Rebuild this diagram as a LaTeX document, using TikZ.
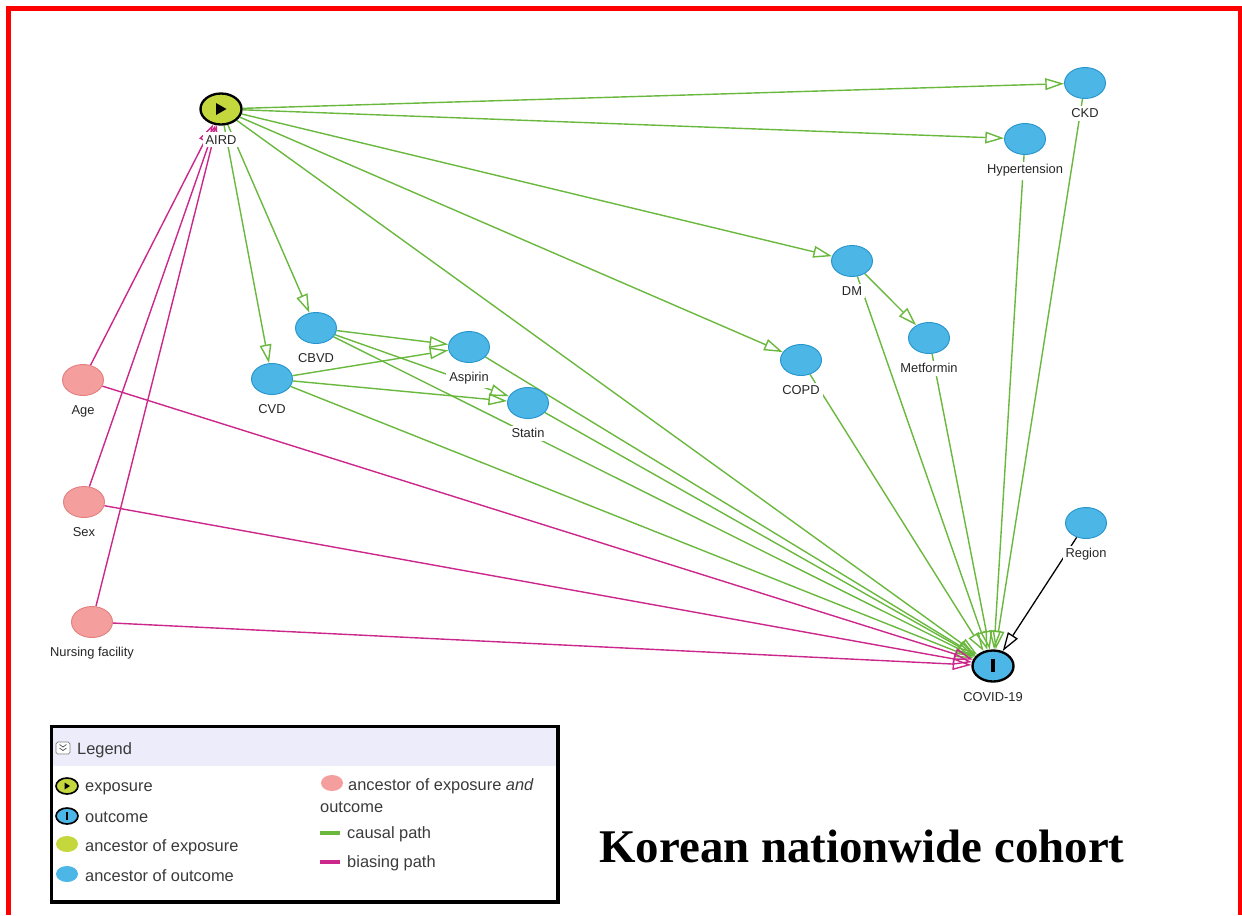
\documentclass[tikz,border=0pt]{standalone}
\usepackage{fontspec}
\setmainfont{Liberation Sans}
\newfontfamily\titlefont{Liberation Serif}
\usetikzlibrary{arrows.meta,shapes.geometric,backgrounds}

\definecolor{causalgreen}{RGB}{106,184,62}
\definecolor{biaspink}{RGB}{204,40,140}
\definecolor{outblue}{RGB}{76,182,230}
\definecolor{outborder}{RGB}{40,150,205}
\definecolor{bothpink}{RGB}{245,158,158}
\definecolor{bothborder}{RGB}{228,128,128}
\definecolor{expyellow}{RGB}{196,216,62}
\definecolor{legendhead}{RGB}{236,236,250}
\definecolor{legendtext}{RGB}{58,58,58}

\begin{document}
\begin{tikzpicture}[x=0.03cm,y=-0.03cm,
  var/.style={ellipse,inner sep=0pt,minimum width=1.23cm,minimum height=0.93cm},
  lab/.style={fill=white,inner sep=2.5pt,label distance=5.5pt,text=black!85,font=\fontsize{11}{13}\selectfont},
  outc/.style={var,fill=outblue,draw=outborder,line width=0.8pt},
  both/.style={var,fill=bothpink,draw=bothborder,line width=0.8pt},
  expo/.style={var,fill=expyellow,draw=black,line width=2pt},
  outcome/.style={var,fill=outblue,draw=black,line width=2pt},
  causal/.style={draw=causalgreen,line width=1.2pt,-{Triangle[open,length=16pt,width=10pt]}},
  biasing/.style={draw=biaspink,line width=1.2pt,-{Triangle[open,length=16pt,width=10pt]}},
  plain/.style={draw=black,line width=1.1pt,-{Triangle[open,length=16pt,width=10pt]}},
  swatch/.style={ellipse,inner sep=0pt,minimum width=0.66cm,minimum height=0.48cm},
  legtext/.style={anchor=base west,inner sep=0pt,text=legendtext,font=\fontsize{14}{16}\selectfont}]
\useasboundingbox (0,0) rectangle (1242,915);

% frame
\draw[red,line width=4.3pt] (8.5,915) -- (8.5,8.5) -- (1240,8.5) -- (1240,915);

% variables
\node[expo,label={[lab]below:AIRD}] (aird) at (221,109) {};
\node[outc,label={[lab]below:CKD}] (ckd) at (1085,83) {};
\node[outc,label={[lab]below:Hypertension}] (hyp) at (1025,139) {};
\node[outc,label={[lab]below:DM}] (dm) at (852,261) {};
\node[outc,label={[lab]below:Metformin}] (met) at (929,338) {};
\node[outc,label={[lab]below:COPD}] (copd) at (801,360) {};
\node[outc,label={[lab]below:CBVD}] (cbvd) at (316,328) {};
\node[outc,label={[lab]below:Aspirin}] (asp) at (469,347) {};
\node[outc,label={[lab]below:CVD}] (cvd) at (272,379) {};
\node[outc,label={[lab]below:Statin}] (stat) at (528,403) {};
\node[outc,label={[lab]below:Region}] (reg) at (1086,523) {};
\node[both,label={[lab]below:Age}] (age) at (83,380) {};
\node[both,label={[lab]below:Sex}] (sex) at (84,502) {};
\node[both,label={[lab]below:Nursing facility}] (nurs) at (92,622) {};
\node[outcome,label={[lab]below:COVID-19}] (covid) at (993,666) {};
\fill (216,103) -- (226.5,109) -- (216,115) -- cycle;
\fill (991.3,659) rectangle (994.7,672);

\begin{scope}[on background layer]
% causal paths
\draw[causal] (aird) -- (ckd);
\draw[causal] (aird) -- (hyp);
\draw[causal] (aird) -- (dm);
\draw[causal] (aird) -- (copd);
\draw[causal] (aird) -- (cbvd);
\draw[causal] (aird) -- (cvd);
\draw[causal] (aird) -- (covid);
\draw[causal] (cbvd) -- (asp);
\draw[causal] (cbvd) -- (stat);
\draw[causal] (cbvd) -- (covid);
\draw[causal] (cvd) -- (asp);
\draw[causal] (cvd) -- (stat);
\draw[causal] (cvd) -- (covid);
\draw[causal] (asp) -- (covid);
\draw[causal] (stat) -- (covid);
\draw[causal] (dm) -- (met);
\draw[causal] (dm) -- (covid);
\draw[causal] (met) -- (covid);
\draw[causal] (copd) -- (covid);
\draw[causal] (hyp) -- (covid);
\draw[causal] (ckd) -- (covid);
\draw[plain] (reg) -- (covid);
% biasing paths
\draw[biasing] (age) -- (aird);
\draw[biasing] (sex) -- (aird);
\draw[biasing] (nurs) -- (aird);
\draw[biasing] (age) -- (covid);
\draw[biasing] (sex) -- (covid);
\draw[biasing] (nurs) -- (covid);
\end{scope}

% legend
\fill[legendhead] (53,728) rectangle (556.5,766);
\draw[line width=2.6pt] (51.5,726.5) rectangle (558,902);
\draw[gray,line width=0.6pt,rounded corners=1.5pt,fill=white] (56,742) rectangle (70,754);
\draw[gray!60!black,line width=0.6pt] (59.5,744.5) -- (63,747) -- (66.5,744.5) (59.5,748) -- (63,750.5) -- (66.5,748);
\node[legtext] (leghead) at (77,754) {Legend};
\node[swatch,fill=expyellow,draw=black,line width=1.4pt] (sexp) at (67,786) {};
\fill (64.5,782.5) -- (70,786) -- (64.5,789.5) -- cycle;
\node[swatch,fill=outblue,draw=black,line width=1.4pt] (sout) at (67,816) {};
\fill (66,812) rectangle (68,820);
\node[swatch,fill=expyellow] (sanc) at (67,844) {};
\node[swatch,fill=outblue] (sancout) at (67,874) {};
\node[legtext] (lexp) at (85,791) {exposure};
\node[legtext] (lout) at (85,822) {outcome};
\node[legtext] (lanc) at (85,851) {ancestor of exposure};
\node[legtext] (lancout) at (85,881) {ancestor of outcome};
\node[swatch,fill=bothpink] (sboth) at (332,783) {};
\node[legtext] (lboth) at (348,790) {ancestor of exposure \textit{and}};
\node[legtext] (lboth2) at (320,812) {outcome};
\draw[causalgreen,line width=3.5pt] (320,833) -- (340,833);
\node[legtext] (lcausal) at (347,838) {causal path};
\draw[biaspink,line width=3.5pt] (320,862) -- (340,862);
\node[legtext] (lbias) at (347,867) {biasing path};

% title
\node[anchor=base,inner sep=0pt,font=\titlefont\bfseries\fontsize{40}{48}\selectfont] (title) at (862,862) {Korean nationwide cohort};
\end{tikzpicture}
\end{document}
